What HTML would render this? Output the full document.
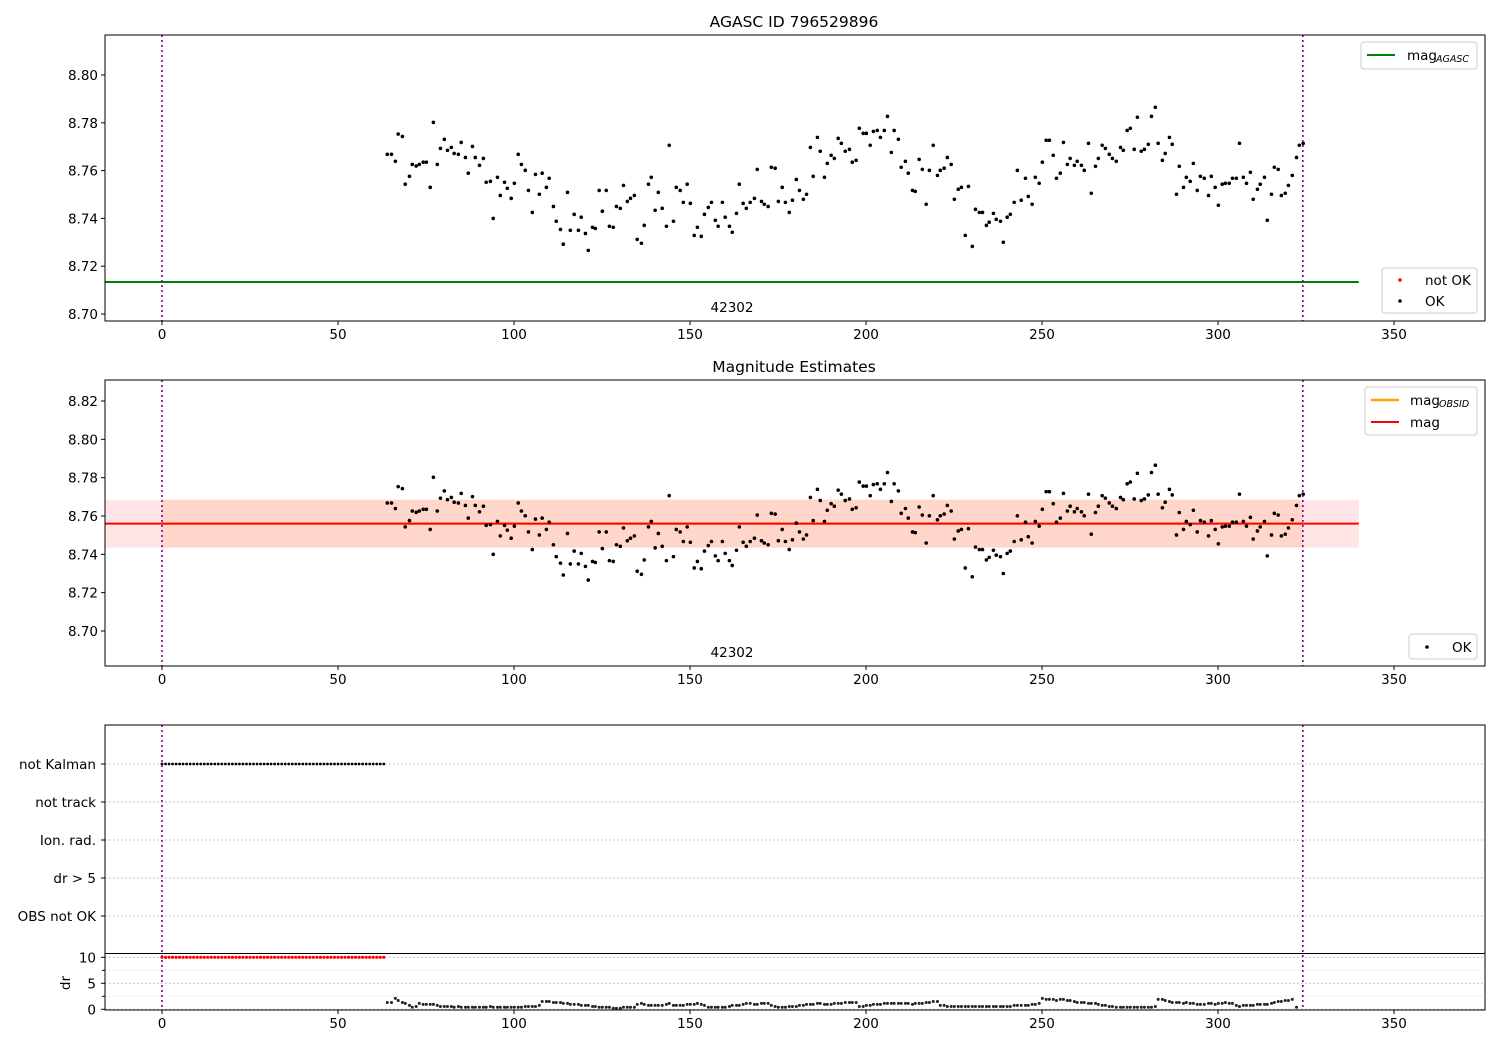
<!DOCTYPE html>
<html><head><meta charset="utf-8"><style>
body{margin:0;background:#fff}
svg{display:block;font-family:"DejaVu Sans","Liberation Sans",sans-serif}
</style></head><body>
<svg id="c" width="1500" height="1050" viewBox="0 0 1500 1050" xmlns="http://www.w3.org/2000/svg"></svg>
<script>
const magTimes=[64.0,65.2,66.3,67.1,68.3,69.1,70.3,71.1,72.2,73.1,74.2,75.1,76.2,77.1,78.2,79.1,80.2,81.1,82.2,83.0,84.2,85.0,86.2,87.0,88.2,89.0,90.2,91.3,92.1,93.3,94.1,95.3,96.1,97.3,98.1,99.2,100.1,101.2,102.1,103.2,104.1,105.2,106.1,107.2,108.0,109.2,110.0,111.2,112.0,113.2,114.0,115.2,116.0,117.1,118.3,119.1,120.3,121.1,122.3,123.1,124.2,125.1,126.2,127.1,128.2,129.1,
130.2,131.1,132.2,133.1,134.2,135.0,136.2,137.0,138.2,139.0,140.1,141.0,142.1,143.3,144.1,145.3,146.1,147.2,148.1,149.2,150.1,151.2,152.1,153.2,154.1,155.2,156.1,157.2,158.0,159.2,160.0,161.2,162.0,163.2,164.0,165.1,166.0,167.1,168.3,169.1,170.3,171.1,172.2,173.1,174.2,175.1,176.2,177.1,178.2,179.1,180.2,181.1,182.2,183.1,184.2,185.0,186.2,187.0,188.2,189.0,190.1,191.0,192.1,193.0,194.1,195.3,196.1,
197.2,198.1,199.2,200.1,201.2,202.1,203.2,204.1,205.2,206.1,207.2,208.0,209.2,210.0,211.2,212.0,213.2,214.0,215.1,216.0,217.1,218.0,219.1,220.3,221.1,222.2,223.1,224.2,225.1,226.2,227.1,228.2,229.1,230.2,231.1,232.2,233.1,234.2,235.0,236.2,237.0,238.2,239.0,240.1,241.0,242.1,243.0,244.1,245.3,246.1,247.2,248.1,249.2,250.1,251.2,252.1,253.2,254.1,255.2,256.1,257.2,258.0,259.2,260.0,261.2,262.0,263.2,
264.0,265.2,266.0,267.1,268.0,269.1,270.0,271.1,272.3,273.1,274.2,275.1,276.2,277.1,278.2,279.1,280.2,281.1,282.2,283.0,284.2,285.0,286.2,287.0,288.2,289.0,290.2,291.0,292.1,293.0,294.1,295.0,296.1,297.3,298.1,299.2,300.1,301.2,302.1,303.2,304.1,305.2,306.1,307.2,308.1,309.2,310.0,311.2,312.0,313.2,314.0,315.2,316.0,317.1,318.0,319.1,320.0,321.1,322.3,323.1,324.2];
const magValues=[8.7668,8.7668,8.7639,8.7753,8.7743,8.7543,8.7576,8.7626,8.7619,8.7626,8.7635,8.7635,8.7530,8.7802,8.7626,8.7693,8.7731,8.7685,8.7697,8.7672,8.7668,8.7718,8.7655,8.7589,8.7701,8.7655,8.7622,8.7651,8.7551,8.7555,8.7400,8.7572,8.7496,8.7551,8.7526,8.7484,8.7547,8.7668,8.7626,8.7601,8.7517,8.7425,8.7584,8.7501,8.7589,8.7530,8.7568,8.7450,8.7388,8.7354,8.7292,8.7509,8.7350,8.7417,8.7350,8.7405,8.7337,8.7266,8.7363,8.7358,8.7517,8.7430,8.7517,8.7367,8.7363,8.7450,
8.7442,8.7538,8.7471,8.7484,8.7496,8.7312,8.7296,8.7371,8.7543,8.7572,8.7434,8.7509,8.7442,8.7367,8.7706,8.7388,8.7530,8.7517,8.7467,8.7543,8.7463,8.7329,8.7363,8.7325,8.7417,8.7446,8.7467,8.7392,8.7367,8.7467,8.7405,8.7367,8.7342,8.7421,8.7543,8.7463,8.7442,8.7467,8.7484,8.7605,8.7471,8.7459,8.7450,8.7614,8.7610,8.7471,8.7530,8.7467,8.7425,8.7476,8.7563,8.7517,8.7480,8.7501,8.7697,8.7576,8.7739,8.7681,8.7572,8.7630,8.7664,8.7651,8.7735,8.7714,8.7681,8.7689,8.7635,
8.7643,8.7777,8.7756,8.7756,8.7706,8.7764,8.7768,8.7739,8.7768,8.7827,8.7676,8.7768,8.7731,8.7614,8.7639,8.7589,8.7517,8.7513,8.7647,8.7605,8.7459,8.7601,8.7706,8.7580,8.7601,8.7610,8.7655,8.7626,8.7480,8.7522,8.7530,8.7329,8.7534,8.7283,8.7438,8.7425,8.7425,8.7371,8.7384,8.7421,8.7396,8.7388,8.7300,8.7405,8.7417,8.7467,8.7601,8.7476,8.7568,8.7492,8.7459,8.7572,8.7547,8.7635,8.7727,8.7727,8.7664,8.7568,8.7589,8.7718,8.7626,8.7651,8.7622,8.7639,8.7622,8.7601,8.7714,
8.7505,8.7618,8.7651,8.7706,8.7693,8.7668,8.7651,8.7639,8.7697,8.7685,8.7768,8.7777,8.7689,8.7823,8.7681,8.7689,8.7710,8.7827,8.7865,8.7714,8.7643,8.7672,8.7739,8.7710,8.7501,8.7618,8.7530,8.7572,8.7555,8.7630,8.7517,8.7576,8.7568,8.7496,8.7576,8.7530,8.7455,8.7543,8.7547,8.7547,8.7568,8.7568,8.7714,8.7572,8.7547,8.7593,8.7480,8.7522,8.7543,8.7572,8.7392,8.7501,8.7614,8.7605,8.7496,8.7505,8.7538,8.7580,8.7655,8.7706,8.7714];
const drValues=[1.3,1.3,2.1,1.7,1.3,1.15,0.75,0.4,0.55,1.15,0.95,0.95,0.95,0.95,0.75,0.55,0.55,0.55,0.55,0.4,0.55,0.4,0.4,0.4,0.4,0.4,0.4,0.4,0.4,0.55,0.4,0.4,0.4,0.4,0.4,0.4,0.4,0.4,0.4,0.55,0.55,0.55,0.55,0.75,1.5,1.5,1.5,1.3,1.3,1.3,1.15,1.15,0.95,0.95,0.95,0.75,0.75,0.75,0.55,0.55,0.4,0.4,0.4,0.4,0.2,0.2,0.2,0.4,0.4,0.4,0.4,0.95,1.15,0.95,0.75,0.75,0.75,0.75,0.75,0.95,1.15,0.75,0.75,0.75,0.75,0.95,0.95,0.95,1.15,0.95,0.75,0.4,0.4,0.4,0.4,0.4,0.4,0.55,0.75,0.75,0.75,0.95,1.15,1.15,0.95,0.95,1.15,1.15,1.15,0.75,0.55,0.4,0.4,0.4,0.55,0.55,0.55,0.75,0.75,0.95,0.95,0.95,1.15,1.15,0.95,0.95,0.95,1.15,1.15,1.15,1.3,1.3,1.3,
1.3,0.55,0.55,0.75,0.75,0.95,0.95,0.95,1.15,1.15,1.15,1.15,1.15,1.15,1.15,1.15,0.95,1.15,1.15,1.15,1.3,1.3,1.5,1.5,0.75,0.75,0.55,0.55,0.55,0.55,0.55,0.55,0.55,0.55,0.55,0.55,0.55,0.55,0.55,0.55,0.55,0.55,0.55,0.55,0.55,0.75,0.75,0.75,0.75,0.75,0.95,0.95,1.15,2.1,1.9,1.9,1.9,1.7,1.9,1.9,1.7,1.7,1.5,1.3,1.3,1.3,1.15,1.15,1.15,0.95,0.75,0.75,0.55,0.55,0.4,0.4,0.4,0.4,0.4,0.4,0.4,0.4,0.4,0.4,0.4,0.55,1.9,1.9,1.7,1.5,1.3,1.3,1.3,1.15,1.3,1.15,1.15,0.95,0.95,0.95,1.15,1.15,0.95,1.15,1.15,1.3,1.15,1.15,0.75,0.55,0.75,0.75,0.75,0.75,0.95,0.95,0.95,0.95,1.15,1.3,1.5,1.5,1.7,1.7,1.9,0.4];
const notKalmanTimes=[0,1,2,3,4,5,6,7,8,9,10,11,12,13,14,15,16,17,18,19,20,21,22,23,24,25,26,27,28,29,30,31,32,33,34,35,36,37,38,39,40,41,42,43,44,45,46,47,48,49,50,51,52,53,54,55,56,57,58,59,60,61,62,63];
const notOkDr=[10,10,10,10,10,10,10,10,10,10,10,10,10,10,10,10,10,10,10,10,10,10,10,10,10,10,10,10,10,10,10,10,10,10,10,10,10,10,10,10,10,10,10,10,10,10,10,10,10,10,10,10,10,10,10,10,10,10,10,10,10,10,10,10];
const xTicks=[0,50,100,150,200,250,300,350];
const y1Ticks=[8.70,8.72,8.74,8.76,8.78,8.80];
const y2Ticks=[8.70,8.72,8.74,8.76,8.78,8.80,8.82];
const flagCats=["not Kalman","not track","Ion. rad.","dr > 5","OBS not OK"];
const drTicks=[0,5,10];
const magAgasc=8.7134, magObsid=8.756, magMean=8.756, magSig=0.0125;
const tStart=0, tEnd=324.1;

const S=document.getElementById('c'), NS='http://www.w3.org/2000/svg';
function el(t,a,p){const e=document.createElementNS(NS,t);for(const k in a)e.setAttribute(k,a[k]);(p||S).appendChild(e);return e;}
const X=t=>162+t*3.52;
const L=105,R=1485;
const Y1=v=>75+(8.80-v)/0.02*47.8;
const Y2=v=>631-(v-8.70)/0.02*38.333;
const YD=v=>1009.3-v*5.2;
const catY=i=>764+i*38;

function txt(x,y,s,attrs,name){const t=el('text',Object.assign({x:x,y:y,'font-size':13.5,fill:'#000'},attrs||{}));t.textContent=s;


return t;}
function frame(top,bot,name){const r=el('rect',{x:L,y:top,width:R-L,height:bot-top,fill:'none',stroke:'#000','stroke-width':1});

}
function xAxis(bot,lab,name){const g=el('g',{});


xTicks.forEach(v=>{el('line',{x1:X(v),x2:X(v),y1:bot,y2:bot+4,stroke:'#000'},g);if(lab){const t=el('text',{x:X(v),y:bot+18,'text-anchor':'middle','font-size':13.5},g);t.textContent=v;}});}
function vlines(top,bot){[tStart,tEnd].forEach(t=>{const l=el('line',{x1:X(t),x2:X(t),y1:top,y2:bot,stroke:'#800080','stroke-width':1.6,'stroke-dasharray':'2,3'});

});}
function pts(ts,vs,f,color,r,name,top,bot){const g=el('g',{});


const n=Math.min(ts.length,vs.length);for(let i=0;i<n;i++){const y=f(vs[i]);if(y<top||y>bot)continue;el('circle',{cx:X(ts[i]),cy:y,r:r,fill:color},g);}}

// Panel 1
txt(794,27,'AGASC ID 796529896',{'text-anchor':'middle','font-size':15.5},'panel1-title');
const gl=el('line',{x1:L,x2:X(340),y1:Y1(magAgasc),y2:Y1(magAgasc),stroke:'green','stroke-width':2});


pts(magTimes,magValues,Y1,'#000',1.8,'ok-points-panel1',35,321);
vlines(35,321);
frame(35,321,'panel1-axes');
xAxis(321,true,'panel1-x-axis');
y1Ticks.forEach(v=>{el('line',{x1:L-4,x2:L,y1:Y1(v),y2:Y1(v),stroke:'#000'});txt(L-7,Y1(v)+5,v.toFixed(2),{'text-anchor':'end'},'y1-tick-label');});
txt(732,312,'42302',{'text-anchor':'middle'},'obsid-label-1');
function legBox(x,y,w,h,name){const r=el('rect',{x:x,y:y,width:w,height:h,rx:3,fill:'#fff',stroke:'#ccc','fill-opacity':0.8});

}
legBox(1361,42,116,27,'legend-agasc');
el('line',{x1:1367,x2:1395,y1:55,y2:55,stroke:'green','stroke-width':2});
txt(1407,60,'mag',{},'legend-agasc-label');txt(1436,62,'AGASC',{'font-size':9.5,'font-style':'italic'},'legend-agasc-sub');
legBox(1382,268,95,45,'legend-ok-status');
el('circle',{cx:1400,cy:280,r:1.8,fill:'red'});txt(1425,285,'not OK',{},'legend-not-ok');
el('circle',{cx:1400,cy:301,r:1.8,fill:'#000'});txt(1425,306,'OK',{},'legend-ok');

// Panel 2
txt(794,372,'Magnitude Estimates',{'text-anchor':'middle','font-size':15.5},'panel2-title');
const b1=el('rect',{x:L,y:Y2(magMean+magSig),width:X(340)-L,height:Y2(magMean-magSig)-Y2(magMean+magSig),fill:'red','fill-opacity':0.1});


const b2=el('rect',{x:X(tStart),y:Y2(magObsid+magSig),width:X(tEnd)-X(tStart),height:Y2(magObsid-magSig)-Y2(magObsid+magSig),fill:'#ff8c40','fill-opacity':0.17});


const ol=el('line',{x1:X(tStart),x2:X(tEnd),y1:Y2(magObsid),y2:Y2(magObsid),stroke:'orange','stroke-width':2});


const rl=el('line',{x1:L,x2:X(340),y1:Y2(magMean),y2:Y2(magMean),stroke:'red','stroke-width':2});


pts(magTimes,magValues,Y2,'#000',1.8,'ok-points-panel2',380,666);
vlines(380,666);
frame(380,666,'panel2-axes');
xAxis(666,true,'panel2-x-axis');
y2Ticks.forEach(v=>{el('line',{x1:L-4,x2:L,y1:Y2(v),y2:Y2(v),stroke:'#000'});txt(L-7,Y2(v)+5,v.toFixed(2),{'text-anchor':'end'},'y2-tick-label');});
txt(732,657,'42302',{'text-anchor':'middle'},'obsid-label-2');
legBox(1365,387,112,48,'legend-mag');
el('line',{x1:1371,x2:1399,y1:400,y2:400,stroke:'orange','stroke-width':2.5});
txt(1410,405,'mag',{},'legend-obsid-label');txt(1439,407,'OBSID',{'font-size':9.5,'font-style':'italic'},'legend-obsid-sub');
el('line',{x1:1371,x2:1399,y1:422,y2:422,stroke:'red','stroke-width':2});
txt(1410,427,'mag',{},'legend-mag-label');
legBox(1409,634,68,25,'legend-ok-2');
el('circle',{cx:1427,cy:647,r:1.8,fill:'#000'});txt(1452,652,'OK',{},'legend-ok-2-label');

// Panel 3 flags
flagCats.forEach((c,i)=>{const l=el('line',{x1:L,x2:R,y1:catY(i),y2:catY(i),stroke:'#b0b0b0','stroke-dasharray':'1.5,2.5'});


el('line',{x1:L-4,x2:L,y1:catY(i),y2:catY(i),stroke:'#000'});
txt(L-9,catY(i)+5,c,{'text-anchor':'end'},'flag-label');});
const nkVals=notKalmanTimes.map(()=>0);
pts(notKalmanTimes,nkVals,()=>catY(0),'#000',1.4,'not-kalman-points',725,953);
drTicks.forEach(v=>{const l=el('line',{x1:L,x2:R,y1:YD(v),y2:YD(v),stroke:'#b0b0b0','stroke-dasharray':'1.5,2.5'});


el('line',{x1:L-4,x2:L,y1:YD(v),y2:YD(v),stroke:'#000'});
txt(L-9,YD(v)+5,String(v),{'text-anchor':'end'},'dr-tick-label');});
[2.5,7.5].forEach(v=>{el('line',{x1:L-3,x2:L,y1:YD(v),y2:YD(v),stroke:'#000'});el('line',{x1:L,x2:R,y1:YD(v),y2:YD(v),stroke:'#e0e0e0','stroke-dasharray':'1.5,2.5'});});
pts(notKalmanTimes,notOkDr,YD,'red',1.6,'dr-not-ok-points',953,1011);
pts(magTimes,drValues,YD,'#222',1.5,'dr-ok-points',953,1011);
txt(70,983,'dr',{'text-anchor':'middle',transform:'rotate(-90 70 983)'},'dr-axis-title');
vlines(725,1010);
frame(725,1010,'panel3-axes');
const sep=el('line',{x1:L,x2:R,y1:953.5,y2:953.5,stroke:'#000','stroke-width':1});


xAxis(1010,true,'panel3-x-axis');
</script>
</body></html>
